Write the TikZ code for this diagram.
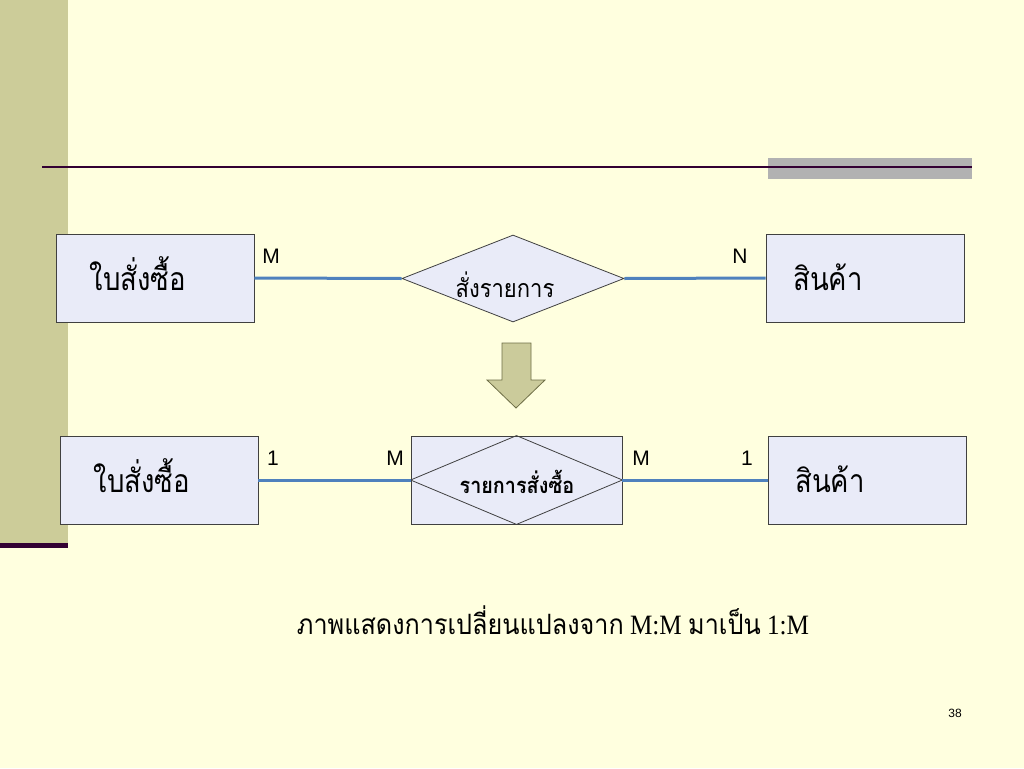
\documentclass[tikz,border=0pt]{standalone}
\usepackage{graphicx}
\usepackage{fontspec}
\setmainfont{Liberation Serif}
\setsansfont{Liberation Sans}
\newfontfamily\thai[Script=Thai]{Loma}
\usetikzlibrary{shapes.geometric}
\definecolor{bgc}{HTML}{FFFFDF}
\definecolor{barc}{HTML}{CCCC99}
\definecolor{maroon}{HTML}{330033}
\definecolor{grayrect}{HTML}{B2B2B2}
\definecolor{boxfill}{HTML}{E9EBF8}
\definecolor{boxline}{HTML}{404040}
\definecolor{blueline}{HTML}{4F81BD}
\definecolor{arrfill}{HTML}{CBCB9B}
\definecolor{arrline}{HTML}{6E6E46}
\newcommand{\narrow}[2]{\scalebox{#1}[1]{#2}}
\tikzset{
  entity/.style={rectangle, draw=boxline, line width=0.8pt, fill=boxfill, minimum width=198pt, minimum height=88pt, inner sep=0pt},
  relbox/.style={diamond, draw=boxline, line width=0.8pt, fill=boxfill, minimum width=222pt, minimum height=87pt, inner sep=0pt},
  conn/.style={draw=blueline, line width=3pt},
  card/.style={font=\sffamily\fontsize{21}{24}\selectfont, inner sep=0pt},
  big/.style={font=\thai\fontsize{32}{36}\selectfont, inner sep=0pt, anchor=base},
}
\begin{document}
\begin{tikzpicture}[x=1pt,y=-1pt]
\fill[bgc] (0,0) rectangle (1024,768);
\useasboundingbox (0,0) rectangle (1024,768);
% decorations
\fill[barc] (0,0) rectangle (68,543);
\fill[maroon] (0,543) rectangle (68,548);
\fill[grayrect] (768,158) rectangle (972,179);
\draw[maroon, line width=2pt] (42,166.5) -- (972,166.5);
% top row
\node[entity] (e1) at (155,278) {};
\node[relbox] (d1) at (513,278.5) {};
\node[entity] (e2) at (865,278) {};
\node[big] (t1) at (138,290) {\narrow{0.86}{ใบสั่งซื้อ}};
\node[big, font=\thai\fontsize{25}{28}\selectfont] (t2) at (505,297) {\narrow{0.88}{สั่งรายการ}};
\node[big] (t3) at (828,290) {\narrow{0.86}{สินค้า}};
\draw[conn] (e1.east) -- (d1.west);
\draw[conn] (d1.east) -- (e2.west);
\node[card] (m1) at (271,256) {M};
\node[card] (n1) at (740,256) {N};
% arrow
\filldraw[fill=arrfill, draw=arrline, line width=0.8pt]
  (502,343) -- (531,343) -- (531,380) -- (545,380) -- (516,408) -- (487,380) -- (502,380) -- cycle;
% bottom row
\node[entity] (e3) at (159,480) {};
\node[entity, minimum width=211pt] (r) at (516.5,480) {};
\draw[boxline, line width=0.8pt] (r.north) -- (r.east) -- (r.south) -- (r.west) -- cycle;
\node[entity] (e4) at (867.5,480) {};
\node[big] (t4) at (142,492) {\narrow{0.86}{ใบสั่งซื้อ}};
\node[big, font=\thai\bfseries\fontsize{22}{26}\selectfont] (t5) at (517,493) {\narrow{0.9}{รายการสั่งซื้อ}};
\node[big] (t6) at (830,492) {\narrow{0.86}{สินค้า}};
\draw[conn] (e3.east) -- (r.west);
\draw[conn] (r.east) -- (e4.west);
\node[card] (o1) at (273,458) {1};
\node[card] (m2) at (395,458) {M};
\node[card] (m3) at (641,458) {M};
\node[card] (o2) at (747,458) {1};
% caption
\node[inner sep=0pt, anchor=base, font=\fontsize{28}{30}\selectfont] (cap) at (553,634) {\narrow{0.9}{{\thai ภาพแสดงการเปลี่ยนแปลงจาก} M:M {\thai มาเป็น} 1:M}};
\node[inner sep=0pt, font=\sffamily\fontsize{12}{14}\selectfont] (pg) at (955,713) {38};
\end{tikzpicture}
\end{document}
